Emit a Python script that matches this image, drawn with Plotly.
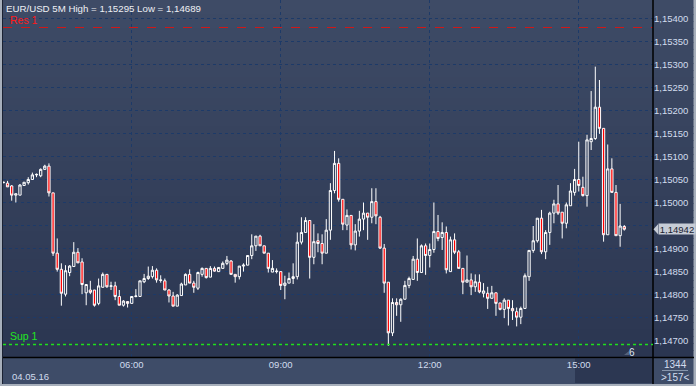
import plotly.graph_objects as go
import pandas as pd

# ---------------- data ----------------
START = "2016-05-04 03:25"
opens = [1.15043, 1.15042, 1.15036, 1.15016, 1.15016, 1.15037, 1.15043, 1.15050, 1.15060, 1.15058,
         1.15072, 1.15079, 1.15021, 1.14890, 1.14855, 1.14801, 1.14848, 1.14861, 1.14892, 1.14871,
         1.14804, 1.14810, 1.14810, 1.14781, 1.14816, 1.14844, 1.14818, 1.14819, 1.14796,
         1.14777, 1.14785, 1.14781, 1.14796, 1.14796, 1.14828, 1.14835, 1.14839, 1.14853, 1.14832,
         1.14830, 1.14810, 1.14797, 1.14775, 1.14798, 1.14821, 1.14844, 1.14825, 1.14814, 1.14844,
         1.14857, 1.14838, 1.14857, 1.14850, 1.14857, 1.14868, 1.14873, 1.14844, 1.14839,
         1.14862, 1.14864, 1.14885, 1.14906, 1.14927, 1.14906, 1.14890, 1.14849, 1.14850, 1.14850,
         1.14820, 1.14825, 1.14835, 1.14839, 1.14914, 1.14935, 1.14961, 1.14881, 1.14917, 1.14911,
         1.14890, 1.14940, 1.15026, 1.15085, 1.15007, 1.14951, 1.14972, 1.14908, 1.14938, 1.14964,
         1.14977, 1.14968, 1.15002, 1.14968,
         1.14901, 1.14827, 1.14717, 1.14783, 1.14778, 1.14790, 1.14820, 1.14833, 1.14877, 1.14848,
         1.14906, 1.14885, 1.14898, 1.14937, 1.14924, 1.14935, 1.14850, 1.14919, 1.14893, 1.14857,
         1.14827, 1.14832, 1.14817, 1.14827, 1.14803, 1.14803, 1.14792, 1.14804, 1.14782,
         1.14768, 1.14788, 1.14770, 1.14763, 1.14751, 1.14770, 1.14839, 1.14896, 1.14917, 1.14966,
         1.14893, 1.14935, 1.14977, 1.14997, 1.14979, 1.14955, 1.14993, 1.15022, 1.15050, 1.15033,
         1.15015, 1.15132, 1.15139, 1.15207, 1.15161, 1.14930, 1.15073, 1.15022, 1.14928, 1.14948]
highs = [1.15045, 1.15047, 1.15038, 1.15019, 1.15040, 1.15044, 1.15055, 1.15065, 1.15063, 1.15074,
         1.15082, 1.15085, 1.15021, 1.14922, 1.14868, 1.14864, 1.14864, 1.14914, 1.14901, 1.14879,
         1.14822, 1.14830, 1.14810, 1.14835, 1.14848, 1.14844, 1.14828, 1.14828, 1.14810,
         1.14788, 1.14785, 1.14796, 1.14812, 1.14830, 1.14845, 1.14861, 1.14862, 1.14857, 1.14842,
         1.14835, 1.14812, 1.14806, 1.14801, 1.14826, 1.14846, 1.14855, 1.14830, 1.14850, 1.14859,
         1.14857, 1.14862, 1.14861, 1.14859, 1.14872, 1.14884, 1.14875, 1.14844, 1.14862,
         1.14868, 1.14885, 1.14931, 1.14927, 1.14930, 1.14906, 1.14890, 1.14875, 1.14857, 1.14850,
         1.14841, 1.14848, 1.14868, 1.14935, 1.14968, 1.14968, 1.14961, 1.14953, 1.14933, 1.14931,
         1.14964, 1.15042, 1.15112, 1.15096, 1.15007, 1.14985, 1.14972, 1.14953, 1.14982, 1.15000,
         1.14977, 1.15031, 1.15031, 1.14971,
         1.14910, 1.14827, 1.14792, 1.14792, 1.14792, 1.14830, 1.14839, 1.14884, 1.14922, 1.14909,
         1.14911, 1.14911, 1.15000, 1.14973, 1.14957, 1.14948, 1.14926, 1.14933, 1.14897, 1.14857,
         1.14885, 1.14846, 1.14844, 1.14844, 1.14825, 1.14817, 1.14819, 1.14804, 1.14782,
         1.14792, 1.14788, 1.14788, 1.14772, 1.14774, 1.14846, 1.14896, 1.14949, 1.14966, 1.14984,
         1.14940, 1.14980, 1.15006, 1.15038, 1.14979, 1.15000, 1.15042, 1.15073, 1.15132, 1.15056,
         1.15147, 1.15242, 1.15295, 1.15266, 1.15161, 1.15126, 1.15096, 1.15038, 1.14997, 1.14951]
lows = [1.15042, 1.15034, 1.15004, 1.15000, 1.15016, 1.15037, 1.15039, 1.15050, 1.15055, 1.15055,
        1.15071, 1.15013, 1.14884, 1.14850, 1.14776, 1.14796, 1.14840, 1.14861, 1.14869, 1.14801,
        1.14777, 1.14801, 1.14774, 1.14777, 1.14816, 1.14815, 1.14810, 1.14788, 1.14777,
        1.14774, 1.14772, 1.14781, 1.14794, 1.14796, 1.14825, 1.14832, 1.14835, 1.14826, 1.14826,
        1.14810, 1.14783, 1.14775, 1.14775, 1.14798, 1.14821, 1.14825, 1.14804, 1.14810, 1.14839,
        1.14835, 1.14838, 1.14850, 1.14850, 1.14857, 1.14864, 1.14844, 1.14826, 1.14833,
        1.14850, 1.14864, 1.14877, 1.14895, 1.14906, 1.14890, 1.14848, 1.14849, 1.14846, 1.14810,
        1.14790, 1.14825, 1.14823, 1.14833, 1.14909, 1.14935, 1.14835, 1.14866, 1.14892, 1.14866,
        1.14890, 1.14919, 1.15020, 1.15002, 1.14940, 1.14940, 1.14898, 1.14896, 1.14926, 1.14940,
        1.14919, 1.14955, 1.14953, 1.14899,
        1.14804, 1.14689, 1.14710, 1.14754, 1.14741, 1.14790, 1.14814, 1.14833, 1.14830, 1.14848,
        1.14843, 1.14859, 1.14891, 1.14916, 1.14897, 1.14846, 1.14850, 1.14888, 1.14857, 1.14801,
        1.14827, 1.14799, 1.14806, 1.14803, 1.14794, 1.14769, 1.14792, 1.14754, 1.14766,
        1.14749, 1.14733, 1.14745, 1.14731, 1.14736, 1.14770, 1.14830, 1.14891, 1.14913, 1.14888,
        1.14877, 1.14908, 1.14955, 1.14973, 1.14922, 1.14944, 1.14993, 1.15015, 1.15024, 1.15013,
        1.14991, 1.15114, 1.15136, 1.15149, 1.14915, 1.14930, 1.15022, 1.14928, 1.14904, 1.14939]
closes = [1.15044, 1.15034, 1.15016, 1.15019, 1.15038, 1.15044, 1.15050, 1.15060, 1.15061, 1.15072,
          1.15079, 1.15021, 1.14890, 1.14855, 1.14803, 1.14852, 1.14862, 1.14892, 1.14869, 1.14822,
          1.14822, 1.14805, 1.14777, 1.14819, 1.14844, 1.14817, 1.14819, 1.14796, 1.14777,
          1.14786, 1.14781, 1.14796, 1.14797, 1.14830, 1.14835, 1.14840, 1.14853, 1.14832, 1.14831,
          1.14810, 1.14797, 1.14775, 1.14799, 1.14823, 1.14844, 1.14825, 1.14816, 1.14848, 1.14857,
          1.14837, 1.14857, 1.14851, 1.14859, 1.14868, 1.14875, 1.14844, 1.14839, 1.14862,
          1.14864, 1.14885, 1.14906, 1.14927, 1.14906, 1.14890, 1.14857, 1.14857, 1.14851, 1.14820,
          1.14825, 1.14835, 1.14839, 1.14914, 1.14935, 1.14961, 1.14881, 1.14915, 1.14911, 1.14890,
          1.14940, 1.15026, 1.15085, 1.15007, 1.14953, 1.14972, 1.14908, 1.14938, 1.14964, 1.14977,
          1.14968, 1.15002, 1.14971, 1.14901,
          1.14825, 1.14717, 1.14783, 1.14778, 1.14790, 1.14820, 1.14835, 1.14877, 1.14848, 1.14906,
          1.14885, 1.14898, 1.14937, 1.14922, 1.14935, 1.14854, 1.14919, 1.14892, 1.14857, 1.14827,
          1.14832, 1.14817, 1.14828, 1.14806, 1.14808, 1.14792, 1.14804, 1.14781, 1.14768,
          1.14788, 1.14770, 1.14765, 1.14751, 1.14770, 1.14841, 1.14896, 1.14917, 1.14966, 1.14893,
          1.14935, 1.14977, 1.14997, 1.14977, 1.14955, 1.14995, 1.15025, 1.15050, 1.15037, 1.15015,
          1.15136, 1.15139, 1.15207, 1.15161, 1.14930, 1.15073, 1.15022, 1.14928, 1.14949, 1.14942]
times = pd.date_range(START, periods=len(opens), freq="5min")

Y_TICKS = [1.14700, 1.14750, 1.14800, 1.14850, 1.14900, 1.14950, 1.15000,
           1.15050, 1.15100, 1.15150, 1.15200, 1.15250, 1.15300, 1.15350, 1.15400]
# 1,14950 sits behind the current-price marker, so its label is left blank
Y_LABELS = ["1,14700", "1,14750", "1,14800", "1,14850", "1,14900", "", "1,15000",
            "1,15050", "1,15100", "1,15150", "1,15200", "1,15250", "1,15300", "1,15350", "1,15400"]

RES1 = 1.15380
SUP1 = 1.14692
LAST = 1.14942
LAST_LABEL = "1,14942"
TITLE = "EUR/USD 5M High = 1,15295 Low = 1,14689"
DATE_LABEL = "04.05.16"
BARS_TOP = "1344"
BARS_BOTTOM = ">157<"
SHIFT_LABEL = "6"
X_RANGE = ["2016-05-04 03:24:30", "2016-05-04 16:29:42"]
Y_RANGE = [1.146646, 1.154397]

# ---------------- layout geometry ----------------
W, H = 696, 386
L, R, T, B = 3, 43, 0, 29
PW, PH = W - L - R, H - T - B
FONT = "Liberation Sans"


def px(xp):
    return (xp - L) / PW


def py(yp):
    return (T + PH - yp) / PH


shapes = []
# gradient background of the main panel (plot + right price panel)
top_c = (62, 75, 102)
bot_c = (43, 54, 81)
n = 51
for i in range(n):
    t = i / (n - 1)
    c = tuple(round(top_c[k] + (bot_c[k] - top_c[k]) * t) for k in range(3))
    y0 = i * 357 / n
    y1 = (i + 1) * 357 / n + 0.8
    shapes.append(dict(type="rect", xref="paper", yref="paper", layer="below",
                       x0=px(2), x1=px(693.5), y0=py(min(y1, 357.5)), y1=py(y0),
                       fillcolor="rgb(%d,%d,%d)" % c, line_width=0))
# bottom time panel
shapes.append(dict(type="rect", xref="paper", yref="paper", layer="below",
                   x0=px(2), x1=px(693.5), y0=py(384), y1=py(357),
                   fillcolor="#3e4c68", line_width=0))
# darker scroll box near right of time panel
shapes.append(dict(type="rect", xref="paper", yref="paper", layer="below",
                   x0=px(575), x1=px(652.5), y0=py(383), y1=py(358.5),
                   fillcolor="#2c3752", line_width=0))
# bottom right info box separator
shapes.append(dict(type="line", xref="paper", yref="paper", layer="above",
                   x0=px(662), x1=px(688), y0=py(370.5), y1=py(370.5),
                   line=dict(color="#8796ad", width=1)))
# frame lines
shapes.append(dict(type="line", xref="paper", yref="paper", layer="above",
                   x0=px(653), x1=px(653), y0=py(384), y1=py(0),
                   line=dict(color="#000000", width=1.5)))
shapes.append(dict(type="line", xref="paper", yref="paper", layer="above",
                   x0=px(2), x1=px(694), y0=py(357.5), y1=py(357.5),
                   line=dict(color="#000000", width=1.5)))
shapes.append(dict(type="line", xref="paper", yref="paper", layer="above",
                   x0=px(2.5), x1=px(2.5), y0=py(384), y1=py(0),
                   line=dict(color="#1b2233", width=1)))
# resistance / support lines
shapes.append(dict(type="line", xref="paper", yref="y", layer="below",
                   x0=0, x1=1, y0=RES1, y1=RES1,
                   line=dict(color="#d01818", width=1, dash="dash")))
shapes.append(dict(type="line", xref="paper", yref="y", layer="above",
                   x0=0, x1=1, y0=SUP1, y1=SUP1,
                   line=dict(color="#1ee01e", width=1.5, dash="dot")))
# last price pointer
unit = (Y_RANGE[1] - Y_RANGE[0]) / PH
shapes.append(dict(type="path", xref="paper", yref="y", layer="above",
                   path="M %f,%f L %f,%f L %f,%f Z" % (px(653.5), LAST, px(658), LAST + 5 * unit,
                                                       px(658), LAST - 5 * unit),
                   fillcolor="#c6ccd6", line_width=0))
# small triangle next to shift label
shapes.append(dict(type="path", xref="paper", yref="paper", layer="above",
                   path="M %f,%f L %f,%f L %f,%f Z" % (px(624), py(355), px(629), py(355), px(629), py(351)),
                   fillcolor="#55627a", line_width=0))

annotations = [
    dict(text=TITLE, xref="paper", yref="paper", x=px(3.5), y=py(8), xanchor="left", yanchor="middle",
         showarrow=False, font=dict(family=FONT, size=9.7, color="#eef0f4")),
    dict(text="Res 1", xref="paper", yref="paper", x=px(7.5), y=py(19.5), xanchor="left", yanchor="middle",
         showarrow=False, font=dict(family=FONT, size=10.5, color="#ff1a1a")),
    dict(text="Sup 1", xref="paper", yref="paper", x=px(7.5), y=py(336), xanchor="left", yanchor="middle",
         showarrow=False, font=dict(family=FONT, size=10.5, color="#22e622")),
    dict(text=DATE_LABEL, xref="paper", yref="paper", x=px(9.5), y=py(376.5), xanchor="left", yanchor="middle",
         showarrow=False, font=dict(family=FONT, size=9.5, color="#d2dcee")),
    dict(text=BARS_TOP, xref="paper", yref="paper", x=px(675.5), y=py(364.5), xanchor="center", yanchor="middle",
         showarrow=False, font=dict(family=FONT, size=10, color="#d2dcee")),
    dict(text=BARS_BOTTOM, xref="paper", yref="paper", x=px(675.5), y=py(377.5), xanchor="center", yanchor="middle",
         showarrow=False, font=dict(family=FONT, size=10, color="#d2dcee")),
    dict(text=SHIFT_LABEL, xref="paper", yref="paper", x=px(632), y=py(352), xanchor="center", yanchor="middle",
         showarrow=False, font=dict(family=FONT, size=10, color="#dfe6f2")),
    dict(text=LAST_LABEL, xref="paper", yref="y", x=px(657.5), y=LAST, xanchor="left", yanchor="middle",
         showarrow=False, bgcolor="#c6ccd6", borderpad=0, width=36, height=10,
         font=dict(family=FONT, size=9.5, color="#1a2230")),
]

fig = go.Figure(go.Candlestick(
    x=times, open=opens, high=highs, low=lows, close=closes,
    increasing=dict(line=dict(color="#ffffff", width=1), fillcolor="rgba(0,0,0,0)"),
    decreasing=dict(line=dict(color="#ffffff", width=1), fillcolor="#ff0000"),
    whiskerwidth=0, hoverinfo="skip", showlegend=False,
))

fig.update_layout(
    width=W, height=H,
    margin=dict(l=L, r=R, t=T, b=B, pad=0),
    paper_bgcolor="#a7afbb",
    plot_bgcolor="rgba(0,0,0,0)",
    boxgap=0.22,
    shapes=shapes,
    annotations=annotations,
    showlegend=False,
    xaxis=dict(
        type="date", range=X_RANGE, rangeslider=dict(visible=False),
        tick0="2016-05-04 00:00", dtick=3 * 3600 * 1000, tickformat="%H:%M",
        showgrid=True, gridcolor="#1d3a68", griddash="dot", gridwidth=1,
        zeroline=False, showline=False, ticks="",
        tickfont=dict(family=FONT, size=9.5, color="#d2dcee"),
    ),
    yaxis=dict(
        side="right", range=Y_RANGE, tickmode="array", tickvals=Y_TICKS, ticktext=Y_LABELS,
        showgrid=True, gridcolor="#1d3a68", griddash="dot", gridwidth=1,
        zeroline=False, showline=False, ticks="",
        tickfont=dict(family=FONT, size=9.5, color="#d2dcee"),
    ),
)

fig.write_html("out.html", config={"displayModeBar": False},
               post_script="document.body.style.margin='0';document.body.style.padding='0';")
